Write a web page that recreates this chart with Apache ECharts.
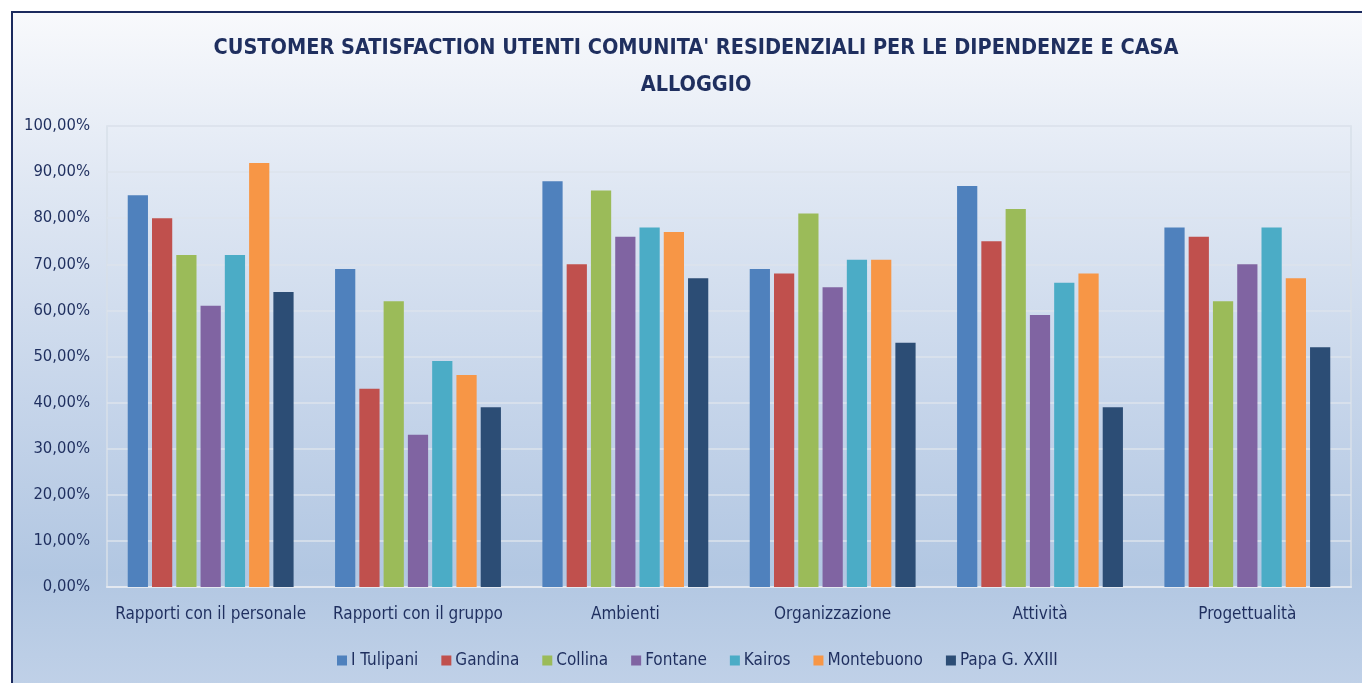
<!DOCTYPE html>
<html>
<head>
<meta charset="utf-8">
<script src="https://cdn.jsdelivr.net/npm/echarts@6/dist/echarts.min.js"></script>
<style>
  html, body { margin: 0; padding: 0; background: #fff; overflow: hidden; }
  #frame {
    position: absolute; left: 11px; top: 11px; width: 1370px; height: 700px;
    border-top: 2px solid #1b2a5e; border-left: 2px solid #1b2a5e;
    background: linear-gradient(to bottom, #f8f9fc 0%, #dfe7f3 25%, #c6d5ea 55%, #b2c7e2 80%, #c3d3e9 100%);
  }
  #chart { position: absolute; left: 0; top: 0; width: 1362px; height: 683px; }
</style>
</head>
<body>
<div id="frame"></div>
<div id="chart"></div>
<script>
const categories = ['Rapporti con il personale', 'Rapporti con il gruppo', 'Ambienti', 'Organizzazione', 'Attività', 'Progettualità']
const seriesNames = ['I Tulipani', 'Gandina', 'Collina', 'Fontane', 'Kairos', 'Montebuono', 'Papa G. XXIII']
const tulipani   = [85, 69, 88, 69, 87, 78]
const gandina    = [80, 43, 70, 68, 75, 76]
const collina    = [72, 62, 86, 81, 82, 62]
const fontane    = [61, 33, 76, 65, 59, 70]
const kairos     = [72, 49, 78, 71, 66, 78]
const montebuono = [92, 46, 77, 71, 68, 67]
const papa       = [64, 39, 67, 53, 39, 52]
const values = [tulipani, gandina, collina, fontane, kairos, montebuono, papa]
const colors = ['#4f81bd', '#c0504d', '#9bbb59', '#8064a2', '#4bacc6', '#f79646', '#2c4d75']

const font = "'Liberation Sans Narrow', 'DejaVu Sans Condensed', 'Open Sans', sans-serif"
const textColor = '#1f2f5f'

const chart = echarts.init(document.getElementById('chart'))
chart.setOption({
  color: colors,
  textStyle: { fontFamily: font },
  title: {
    text: "CUSTOMER SATISFACTION UTENTI COMUNITA' RESIDENZIALI PER LE DIPENDENZE E CASA\nALLOGGIO",
    left: 691,
    top: 25,
    textAlign: 'center',
    textStyle: {
      fontFamily: font,
      fontSize: 21.5,
      fontWeight: 'bold',
      color: textColor,
      lineHeight: 37
    }
  },
  legend: {
    bottom: 9,
    left: 332,
    itemWidth: 10,
    itemHeight: 10,
    itemGap: 23,
    icon: 'rect',
    textStyle: { fontFamily: font, fontSize: 17, color: textColor, padding: [0, 0, 0, -1] },
    data: seriesNames
  },
  grid: {
    left: 107, right: 11, top: 126, bottom: 96,
    show: true, borderColor: '#d8dfe9', borderWidth: 1.5
  },
  xAxis: {
    type: 'category',
    data: categories,
    axisTick: { show: false },
    axisLine: { lineStyle: { color: '#e3e8f0', width: 2 } },
    axisLabel: { fontFamily: font, fontSize: 17, color: textColor, margin: 19, interval: 0 }
  },
  yAxis: {
    type: 'value',
    min: 0, max: 100, interval: 10,
    axisLine: { show: false },
    axisTick: { show: false },
    splitLine: { lineStyle: { color: '#dce3ed', width: 1.5 } },
    axisLabel: {
      fontFamily: font, fontSize: 16.5, color: textColor, margin: 17,
      formatter: (v) => v.toFixed(2).replace('.', ',') + '%'
    }
  },
  series: seriesNames.map((name, i) => ({
    name: name,
    type: 'bar',
    barGap: '20%',
    barCategoryGap: '20%',
    data: values[i]
  }))
})
</script>
</body>
</html>
